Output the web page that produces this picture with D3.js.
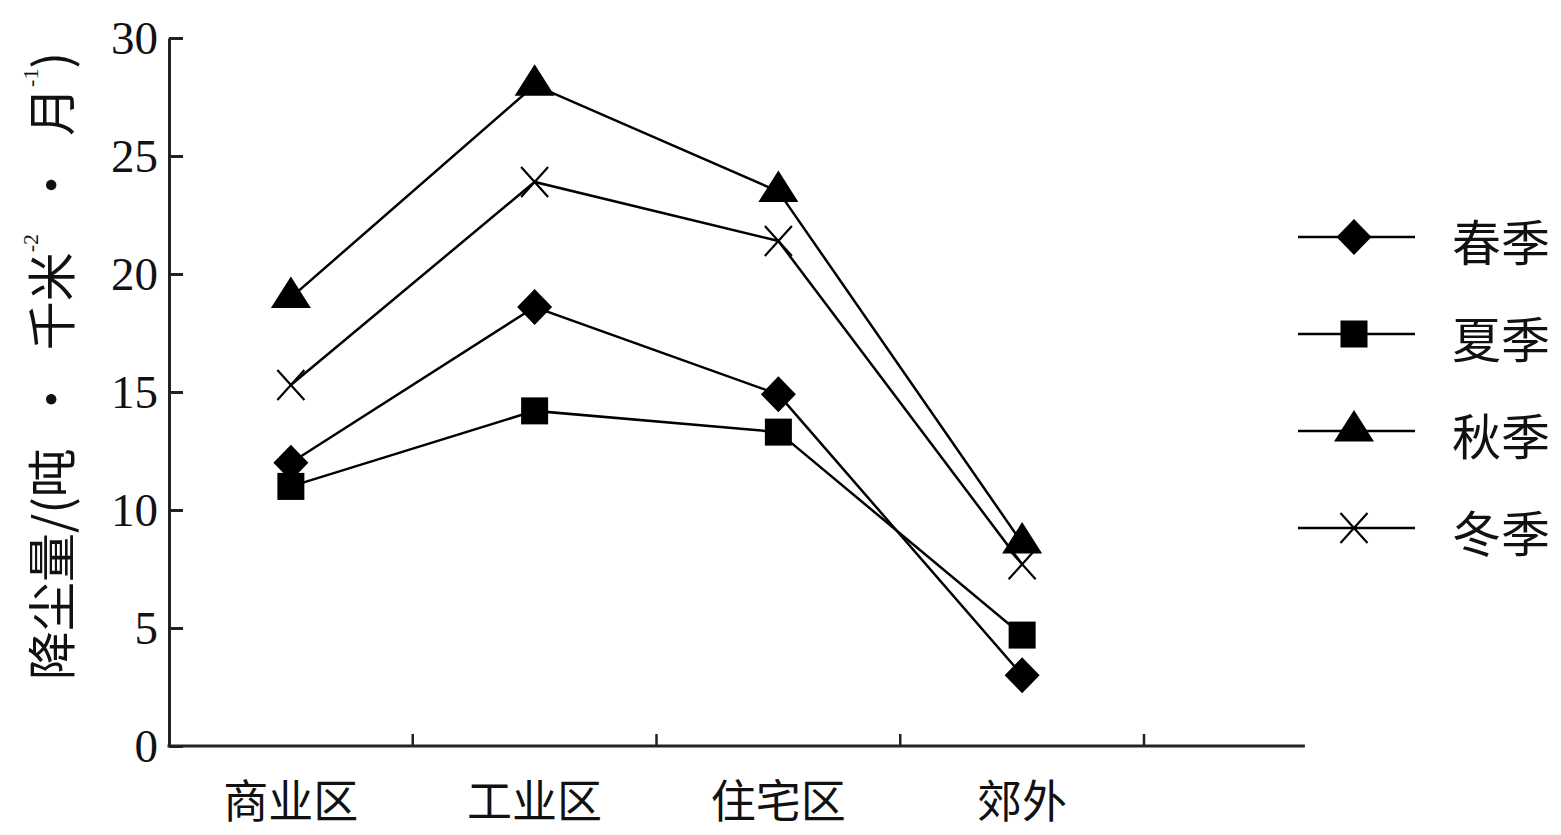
<!DOCTYPE html>
<html><head><meta charset="utf-8">
<script src="https://cdn.jsdelivr.net/npm/d3@7"></script>
<style>
body{margin:0;background:#fff}
text{fill:#111}
.cjk{font-family:"Noto Sans CJK SC","Noto Sans",sans-serif}
.num{font-family:"Liberation Serif","DejaVu Serif",serif}
</style>
</head><body><svg id="c" width="1561" height="835"></svg>
<script>
// ---- data ----
const categories = ["商业区", "工业区", "住宅区", "郊外"];
const seriesNames = ["春季", "夏季", "秋季", "冬季"];
const spring = [12.0, 18.6, 14.9, 3.0];
const summer = [11.0, 14.2, 13.3, 4.7];
const autumn = [19.0, 28.0, 23.5, 8.6];
const winter = [15.3, 23.9, 21.4, 7.7];
const yTicks = [0, 5, 10, 15, 20, 25, 30];
const markerTypes = ["diamond", "square", "triangle", "cross"];

const series = [spring, summer, autumn, winter].map((v, i) => ({ name: seriesNames[i], values: v, marker: markerTypes[i] }));

const svg = d3.select("#c");
const x = d3.scaleBand().domain(categories).range([169, 1144]).padding(0);
const bw = x.bandwidth();
const y = d3.scaleLinear().domain([0, 30]).range([746, 38]);
const cx = c => x(c) + bw / 2;

// ---- y axis ----
const ya = svg.append("g").attr("transform", "translate(169,0)")
  .call(d3.axisLeft(y).tickValues(yTicks).tickSizeInner(-14).tickSizeOuter(0).tickPadding(11));
ya.selectAll("path,line").attr("stroke", "#222").attr("stroke-width", 3);
ya.selectAll("text").attr("class", "num").style("font-size", "47px").attr("dy", "0.34em").attr("fill", "#111");

// ---- x axis ----
const xEnd = x.range()[1] + bw * 0.66;
const xa = svg.append("g");
xa.append("line").attr("x1", x.range()[0] - 1.5).attr("x2", xEnd).attr("y1", y(0)).attr("y2", y(0))
  .attr("stroke", "#222").attr("stroke-width", 3);
xa.selectAll("line.tk").data(categories).join("line").attr("class", "tk")
  .attr("x1", c => x(c) + bw).attr("x2", c => x(c) + bw)
  .attr("y1", y(0)).attr("y2", y(0) - 12).attr("stroke", "#222").attr("stroke-width", 2.5);
xa.selectAll("text").data(categories).join("text").attr("class", "cjk")
  .attr("x", cx).attr("y", 798).attr("dominant-baseline", "central")
  .attr("text-anchor", "middle").style("font-size", "45px").text(d => d);

// ---- marker shapes ----
function markerPath(type) {
  switch (type) {
    case "diamond": return "M0,-18L17.5,0L0,18L-17.5,0Z";
    case "square": return "M-13.5,-13.5H13.5V13.5H-13.5Z";
    case "triangle": return "M0,-21L20,10.5L-20,10.5Z";
    case "cross": return "M-13.5,-15L13.5,15M13.5,-15L-13.5,15";
  }
}
function drawMarker(g, type) {
  const p = g.append("path").attr("d", markerPath(type));
  if (type === "cross") p.attr("fill", "none").attr("stroke", "#000").attr("stroke-width", 2.2);
  else p.attr("fill", "#000").attr("stroke", "none");
}

// ---- lines & markers ----
const line = d3.line().x((d, i) => cx(categories[i])).y(d => y(d));
const sg = svg.append("g");
series.forEach(s => {
  sg.append("path").datum(s.values).attr("d", line).attr("fill", "none")
    .attr("stroke", "#000").attr("stroke-width", 2.5);
});
series.forEach(s => {
  s.values.forEach((v, i) => {
    const g = sg.append("g").attr("transform", `translate(${cx(categories[i])},${y(v)})`);
    drawMarker(g, s.marker);
  });
});

// ---- legend ----
const lg = svg.append("g");
series.forEach((s, i) => {
  const ry = 237 + i * 97;
  lg.append("line").attr("x1", 1298).attr("x2", 1415).attr("y1", ry).attr("y2", ry)
    .attr("stroke", "#000").attr("stroke-width", 2.5);
  const g = lg.append("g").attr("transform", `translate(1354,${ry})`);
  drawMarker(g, s.marker);
  lg.append("text").attr("class", "cjk").attr("x", 1452).attr("y", ry + 2)
    .attr("dominant-baseline", "central").style("font-size", "49px").text(s.name);
});

// ---- y title ----
const t = svg.append("text").attr("class", "cjk")
  .attr("transform", "translate(48,366) rotate(-90)")
  .attr("text-anchor", "middle").attr("dominant-baseline", "central")
  .style("font-size", "49px");
t.append("tspan").text("降尘量/(吨\u2002·\u2002千米");
t.append("tspan").attr("class", "num").attr("dy", -18).style("font-size", "22px").text("-2");
t.append("tspan").attr("dy", 18).text("\u2002·\u2002月");
t.append("tspan").attr("class", "num").attr("dy", -18).style("font-size", "22px").text("-1");
t.append("tspan").attr("dy", 18).text(")");
</script>
</body></html>
